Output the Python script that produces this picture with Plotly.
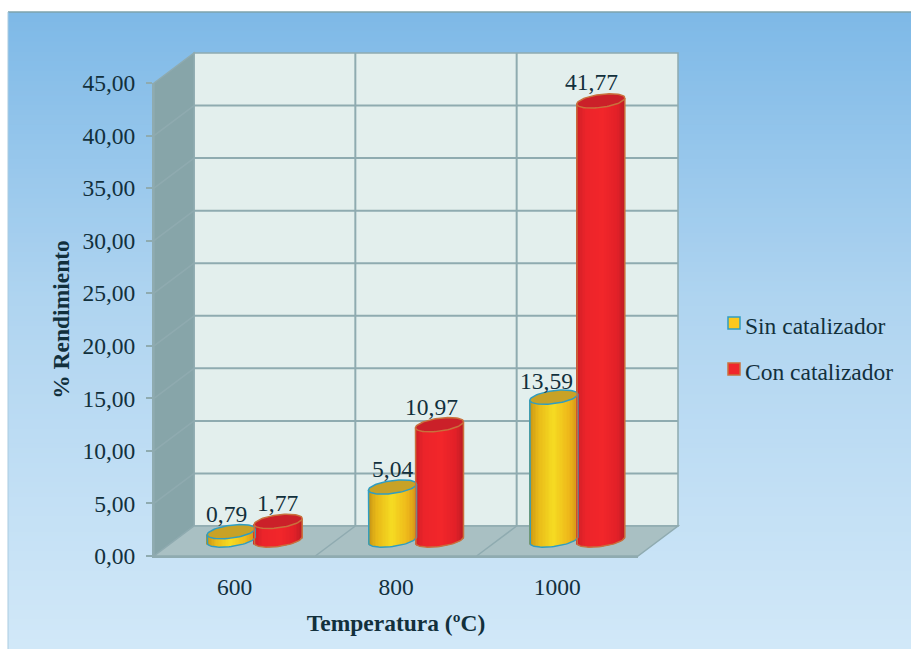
import math
import plotly.graph_objects as go

categories = ["600", "800", "1000"]
sin_catalizador = [0.79, 5.04, 13.59]
con_catalizador = [1.77, 10.97, 41.77]
series_names = ["Sin catalizador", "Con catalizador"]
y_ticks = [0, 5, 10, 15, 20, 25, 30, 35, 40, 45]

W, H = 911, 649
L, R, T, B = 154, 638, 83, 556
PW, PH = R - L, B - T
DX, DY = 40 / PW, 30 / PH      # depth of the 3D box in paper units
UX = PW / 3                    # px per category
UY = PH / 45                   # px per y unit

TEXT = "#12303c"
FONT = "Liberation Serif"
FS = 23.5

def lerp(c1, c2, t):
    return tuple(c1[i] + (c2[i] - c1[i]) * t for i in range(3))

def rgb(c):
    return "rgb(%d,%d,%d)" % tuple(round(v) for v in c)

def ramp(stops, t):
    for (t0, c0), (t1, c1) in zip(stops, stops[1:]):
        if t <= t1:
            return lerp(c0, c1, (t - t0) / (t1 - t0))
    return stops[-1][1]

shapes = []
def px(x):
    return (x - L) / PW
def py(y):
    return (B - y) / PH

# page background, white margin then a vertical blue gradient
bg_stops = [(0, (126, 185, 231)), (0.45, (175, 212, 240)), (1, (209, 232, 248))]
n = 130
top = 12
for i in range(n):
    y0 = top + (H - top) * i / n
    y1 = top + (H - top) * (i + 1) / n + 1
    shapes.append(dict(type="rect", xref="paper", yref="paper", layer="below",
                       x0=px(8), x1=px(W + 2), y0=py(y0), y1=py(y1), line_width=0,
                       fillcolor=rgb(ramp(bg_stops, i / (n - 1)))))
shapes.append(dict(type="line", xref="paper", yref="paper", layer="below",
                   x0=px(8), x1=px(W + 2), y0=py(12), y1=py(12),
                   line=dict(color="#7ea3ad", width=1.5)))
shapes.append(dict(type="line", xref="paper", yref="paper", layer="below",
                   x0=px(8), x1=px(8), y0=py(12), y1=py(H),
                   line=dict(color="#a9cbe0", width=1)))

EDGE = "#8fabb0"
def poly(pts, fill, layer="below"):
    path = "M" + " L".join(f"{a},{b}" for a, b in pts) + " Z"
    shapes.append(dict(type="path", xref="paper", yref="paper", layer=layer, path=path,
                       fillcolor=fill, line=dict(color=EDGE, width=1.5)))
def seg(a, b, c, d, w=2):
    shapes.append(dict(type="line", xref="paper", yref="paper", layer="below",
                       x0=a, y0=b, x1=c, y1=d, line=dict(color=EDGE, width=w)))

poly([(DX, DY), (1 + DX, DY), (1 + DX, 1 + DY), (DX, 1 + DY)], "#e3efed")     # back wall
poly([(0, 0), (DX, DY), (DX, 1 + DY), (0, 1)], "#87a5a9")                     # side wall
poly([(0, 0), (1, 0), (1 + DX, DY), (DX, DY)], "#a9c0c3")                     # floor
for t in y_ticks[1:-1]:
    f = t / 45
    seg(DX, f + DY, 1 + DX, f + DY)
    seg(0, f, DX, f + DY, 1.5)
for i in (1, 2):
    seg(i / 3 + DX, DY, i / 3 + DX, 1 + DY)
    seg(i / 3, 0, i / 3 + DX, DY, 1.5)

# cylinders
HALF = 24 / UX
MINOR = 6.5 / UY
TILT = 3 / UY
BASE = 16 / UY
GROUP = 20 / UX
SPREAD = 23.5 / UX
STRIPS = 34

yellow_stops = [(0, (196, 146, 20)), (0.18, (232, 184, 24)), (0.5, (246, 220, 34)),
                (0.82, (238, 184, 26)), (1, (214, 150, 24))]
red_stops = [(0, (206, 30, 38)), (0.2, (236, 36, 42)), (0.55, (242, 38, 42)),
             (0.85, (226, 32, 40)), (1, (192, 28, 36))]
styles = [
    dict(stops=yellow_stops, top="#c8a226", outline="#2f9dc2", sign=-1, swatch="#fcc81e"),
    dict(stops=red_stops, top="#cb2029", outline="#c9703c", sign=1, swatch="#f0262c"),
]

fig = go.Figure()
outline_traces = []
annotations = []
label_offsets = [[(-5, -18), (0, -18), (-7, -16)], [(-1, -18), (-8, -18), (-9, -19)]]
legend_y = [326, 372]

for s, (name, vals, st) in enumerate(zip(series_names, [sin_catalizador, con_catalizador], styles)):
    xs, bases, heights, colors = [], [], [], []
    for i, v in enumerate(vals):
        cx = i + GROUP + st["sign"] * SPREAD
        for k in range(STRIPS):
            t = (k + 0.5) / STRIPS
            u = 2 * t - 1
            xs.append(cx + u * HALF)
            low = BASE + TILT * u - MINOR * math.sqrt(max(0, 1 - u * u))
            bases.append(low)
            heights.append(BASE + v + TILT * u - low)
            colors.append(rgb(ramp(st["stops"], t)))
    fig.add_trace(go.Bar(x=xs, y=heights, base=bases, width=2 * HALF / STRIPS * 1.25, name=name,
                         marker=dict(color=colors, line_width=0), showlegend=False,
                         hoverinfo="skip"))
    for i, v in enumerate(vals):
        cx = i + GROUP + st["sign"] * SPREAD
        ang = [2 * math.pi * a / 72 for a in range(73)]
        ex = [cx + HALF * math.cos(a) for a in ang]
        ey = [BASE + v + TILT * math.cos(a) + MINOR * math.sin(a) for a in ang]
        lower = [math.pi + math.pi * a / 36 for a in range(37)]
        ox = [cx + HALF * math.cos(a) for a in lower]
        oy = [BASE + TILT * math.cos(a) + MINOR * math.sin(a) for a in lower]
        ox = [cx - HALF] + ox + [cx + HALF]
        oy = [BASE + v - TILT] + oy + [BASE + v + TILT]
        outline_traces.append(go.Scatter(x=ox, y=oy, mode="lines", showlegend=False, hoverinfo="skip",
                                         line=dict(color=st["outline"], width=1.5)))
        outline_traces.append(go.Scatter(x=ex, y=ey, mode="lines", fill="toself", fillcolor=st["top"],
                                         showlegend=False, hoverinfo="skip",
                                         line=dict(color=st["outline"], width=1.5)))
        dx, dy = label_offsets[s][i]
        annotations.append(dict(x=cx, y=BASE + v, xref="x", yref="y", text=f"{v:.2f}".replace(".", ","),
                                showarrow=False, xshift=dx, yshift=-dy,
                                font=dict(family=FONT, size=FS, color=TEXT)))

    # legend entry: swatch tight against its label
    ly = legend_y[s]
    shapes.append(dict(type="rect", xref="paper", yref="paper", layer="above",
                       x0=px(728), x1=px(740), y0=py(ly - 9), y1=py(ly + 3), fillcolor=st["swatch"],
                       line=dict(color=st["outline"], width=1.5)))
    annotations.append(dict(x=px(743), y=py(ly), xref="paper", yref="paper", xanchor="left", yanchor="middle",
                            text=name, showarrow=False, font=dict(family=FONT, size=FS, color=TEXT)))

for tr in outline_traces:
    fig.add_trace(tr)

fig.update_layout(
    width=W, height=H, autosize=False, showlegend=False,
    margin=dict(l=L, r=W - R, t=T, b=H - B, pad=0),
    paper_bgcolor="white", plot_bgcolor="rgba(0,0,0,0)",
    barmode="overlay", separators=",.",
    shapes=shapes, annotations=annotations,
    font=dict(family=FONT, size=FS, color=TEXT),
    xaxis=dict(range=[-0.5, 2.5], tickmode="array", tickvals=[0, 1, 2], ticktext=categories,
               ticks="", ticklabelstandoff=9, showgrid=False, zeroline=False,
               showline=True, linecolor=EDGE, linewidth=2,
               title=dict(text="<b>Temperatura (ºC)</b>", standoff=15,
                          font=dict(family=FONT, size=FS, color=TEXT))),
    yaxis=dict(range=[0, 45], tickmode="array", tickvals=y_ticks, tickformat=".2f",
               ticks="outside", ticklen=6, tickcolor=EDGE, tickwidth=1.5, ticklabelstandoff=6,
               showgrid=False, zeroline=False, showline=True, linecolor=EDGE, linewidth=2,
               title=dict(text="<b>% Rendimiento</b>", standoff=6,
                          font=dict(family=FONT, size=FS, color=TEXT))),
)
fig.write_html("out.html", config={"displayModeBar": False},
               post_script="document.documentElement.style.margin='0';document.body.style.margin='0';"
                           "document.body.style.overflow='hidden';")
